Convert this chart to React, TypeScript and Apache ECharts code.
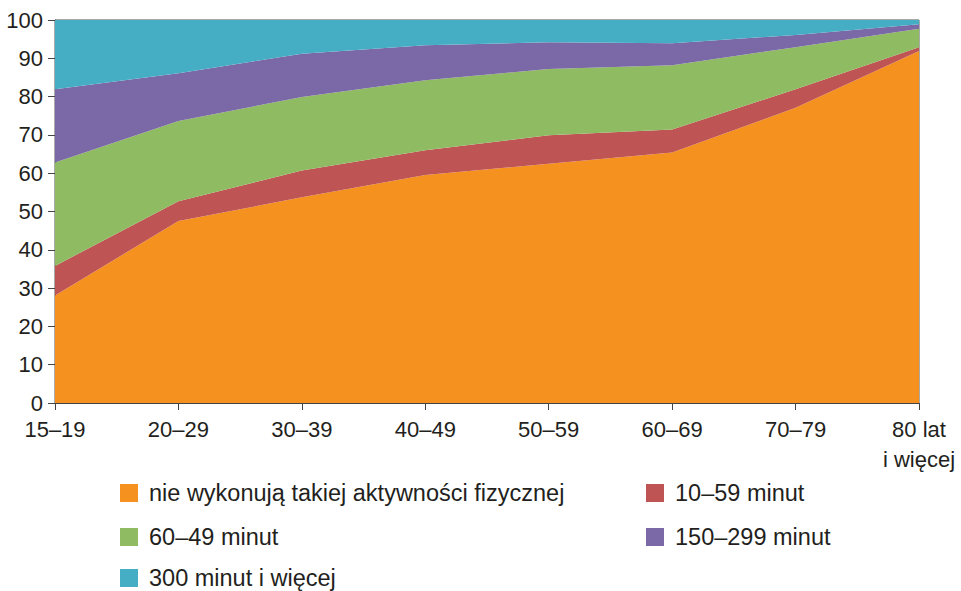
import React, { useEffect, useRef } from "react";
import * as echarts from "echarts";

const categories = ["15–19", "20–29", "30–39", "40–49", "50–59", "60–69", "70–79", "80 lat\ni więcej"];
const seriesNames = [
  "nie wykonują takiej aktywności fizycznej",
  "10–59 minut",
  "60–49 minut",
  "150–299 minut",
  "300 minut i więcej",
];
const noActivity = [28.1, 47.5, 53.7, 59.5, 62.5, 65.4, 77.1, 91.9];
const min10to59 = [7.7, 5.2, 7.0, 6.5, 7.4, 6.0, 4.8, 1.0];
const min60to149 = [27.0, 20.9, 19.2, 18.3, 17.3, 16.8, 11.0, 4.8];
const min150to299 = [19.1, 12.5, 11.3, 9.1, 7.0, 5.7, 3.2, 1.2];
const min300plus = [18.1, 13.9, 8.8, 6.6, 5.8, 6.1, 3.9, 1.1];
const colors = ["#F5911E", "#BF5454", "#8FBB62", "#7B68A6", "#45AEC4"];

const FONT = "'Liberation Sans', Arial, sans-serif";
const TEXT = "#231F20";

export default function App() {
  const ref = useRef<HTMLDivElement>(null);
  useEffect(() => {
    if (!ref.current) return;
    const chart = echarts.init(ref.current, undefined, { renderer: "svg" });
    const values = [noActivity, min10to59, min60to149, min150to299, min300plus];
    const legendPos = [
      { left: 120, top: 481 },
      { left: 646, top: 481 },
      { left: 120, top: 525 },
      { left: 646, top: 525 },
      { left: 120, top: 566 },
    ];
    chart.setOption({
      animation: false,
      textStyle: { fontFamily: FONT, color: TEXT },
      grid: {
        left: 55,
        right: 42,
        top: 20,
        bottom: 188,
        show: true,
        borderColor: "#555",
        borderWidth: 1,
        backgroundColor: "transparent",
      },
      legend: seriesNames.map((name, i) => ({
        data: [name],
        left: legendPos[i].left,
        top: legendPos[i].top,
        padding: 0,
        icon: "rect",
        itemWidth: 18,
        itemHeight: 18,
        selectedMode: false,
        textStyle: { fontFamily: FONT, fontSize: 23.5, color: TEXT, padding: [0, 0, 0, 6] },
      })),
      xAxis: {
        type: "category",
        data: categories,
        boundaryGap: false,
        axisLine: { lineStyle: { color: "#444", width: 1 } },
        axisTick: { length: 7, lineStyle: { color: "#444" }, alignWithLabel: true },
        axisLabel: {
          fontFamily: FONT,
          fontSize: 22,
          color: TEXT,
          margin: 11,
          lineHeight: 30,
          interval: 0,
        },
        splitLine: { show: false },
      },
      yAxis: {
        type: "value",
        min: 0,
        max: 100,
        interval: 10,
        axisLine: { show: true, lineStyle: { color: "#444", width: 1 } },
        axisTick: { show: true, length: 7, lineStyle: { color: "#444" } },
        axisLabel: { fontFamily: FONT, fontSize: 22, color: TEXT, margin: 12 },
        splitLine: { show: false },
      },
      series: seriesNames.map((name, i) => ({
        name,
        type: "line",
        stack: "total",
        data: values[i],
        symbol: "none",
        lineStyle: { width: 0 },
        areaStyle: { color: colors[i], opacity: 1 },
        itemStyle: { color: colors[i] },
      })),
    });
    return () => chart.dispose();
  }, []);
  return (
    <div
      ref={ref}
      style={{ position: "fixed", left: 0, top: 0, width: 961, height: 591, background: "#fff" }}
    />
  );
}
